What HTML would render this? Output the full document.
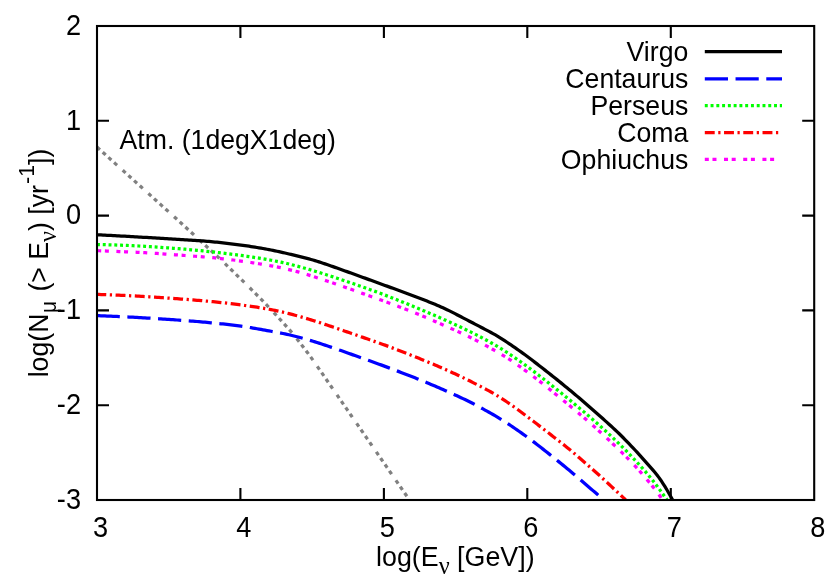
<!DOCTYPE html>
<html><head><meta charset="utf-8"><title>plot</title>
<style>
html,body{margin:0;padding:0;background:#fff;}
body{width:830px;height:581px;overflow:hidden;}
svg{display:block;will-change:transform;}
text{font-family:"Liberation Sans",sans-serif;fill:#000;}
.sym{font-family:"Liberation Serif",serif;}
</style></head><body>
<svg width="830" height="581" viewBox="0 0 830 581">
<rect width="830" height="581" fill="#fff"/>
<g fill="none" stroke-width="3.25" stroke-linejoin="round">
<path d="M97.0,147.07 L99.0,148.88 L101.0,150.68 L103.0,152.49 L105.0,154.30 L107.0,156.10 L109.0,157.91 L111.0,159.72 L113.0,161.52 L115.0,163.33 L117.0,165.14 L119.0,166.94 L121.0,168.75 L123.0,170.56 L125.0,172.36 L127.0,174.17 L129.0,175.98 L131.0,177.78 L133.0,179.59 L135.0,181.40 L137.0,183.20 L139.0,185.01 L141.0,186.82 L143.0,188.62 L145.0,190.43 L147.0,192.24 L149.0,194.04 L151.0,195.85 L153.0,197.66 L155.0,199.46 L157.0,201.27 L159.0,203.08 L161.0,204.88 L163.0,206.69 L165.0,208.50 L167.0,210.30 L169.0,212.11 L171.0,213.92 L173.0,215.73 L175.0,217.54 L177.0,219.35 L179.0,221.17 L181.0,223.00 L183.0,224.84 L185.0,226.68 L187.0,228.52 L189.0,230.36 L191.0,232.20 L193.0,234.04 L195.0,235.88 L197.0,237.72 L199.0,239.55 L201.0,241.39 L203.0,243.23 L205.0,245.07 L207.0,246.91 L209.0,248.75 L211.0,250.59 L213.0,252.43 L215.0,254.27 L217.0,256.12 L219.0,257.97 L221.0,259.85 L223.0,261.74 L225.0,263.65 L227.0,265.58 L229.0,267.52 L231.0,269.47 L233.0,271.42 L235.0,273.37 L237.0,275.32 L239.0,277.27 L241.0,279.22 L243.0,281.18 L245.0,283.13 L247.0,285.09 L249.0,287.05 L251.0,289.03 L253.0,291.03 L255.0,293.03 L257.0,295.04 L259.0,297.05 L261.0,299.07 L263.0,301.10 L265.0,303.17 L267.0,305.28 L269.0,307.41 L271.0,309.57 L273.0,311.72 L275.0,313.88 L277.0,316.05 L279.0,318.22 L281.0,320.41 L283.0,322.62 L285.0,324.84 L287.0,327.08 L289.0,329.34 L291.0,331.62 L293.0,333.96 L295.0,336.39 L297.0,338.90 L299.0,341.47 L301.0,344.07 L303.0,346.68 L305.0,349.30 L307.0,351.95 L309.0,354.63 L311.0,357.38 L313.0,360.20 L315.0,363.07 L317.0,365.96 L319.0,368.86 L321.0,371.76 L323.0,374.66 L325.0,377.56 L327.0,380.46 L329.0,383.36 L331.0,386.26 L333.0,389.15 L335.0,392.05 L337.0,394.95 L339.0,397.85 L341.0,400.75 L343.0,403.65 L345.0,406.55 L347.0,409.45 L349.0,412.35 L351.0,415.25 L353.0,418.15 L355.0,421.04 L357.0,423.94 L359.0,426.84 L361.0,429.74 L363.0,432.64 L365.0,435.54 L367.0,438.44 L369.0,441.34 L371.0,444.24 L373.0,447.14 L375.0,450.04 L377.0,452.94 L379.0,455.83 L381.0,458.73 L383.0,461.63 L385.0,464.53 L387.0,467.43 L389.0,470.33 L391.0,473.23 L393.0,476.13 L395.0,479.03 L397.0,481.93 L399.0,484.83 L401.0,487.72 L403.0,490.62 L405.0,493.52 L407.0,496.42 L408.6,498.74" stroke="#808080" stroke-dasharray="3.95 3.74 3.95 3.74 3.95 3.74 3.95 7.59" stroke-dashoffset="0"/>
<path d="M97.0,315.60 L99.0,315.68 L101.0,315.76 L103.0,315.84 L105.0,315.92 L107.0,316.01 L109.0,316.09 L111.0,316.18 L113.0,316.27 L115.0,316.36 L117.0,316.45 L119.0,316.55 L121.0,316.64 L123.0,316.74 L125.0,316.84 L127.0,316.94 L129.0,317.04 L131.0,317.14 L133.0,317.24 L135.0,317.35 L137.0,317.45 L139.0,317.56 L141.0,317.67 L143.0,317.79 L145.0,317.90 L147.0,318.02 L149.0,318.14 L151.0,318.26 L153.0,318.38 L155.0,318.51 L157.0,318.64 L159.0,318.77 L161.0,318.90 L163.0,319.03 L165.0,319.16 L167.0,319.30 L169.0,319.44 L171.0,319.58 L173.0,319.72 L175.0,319.86 L177.0,320.00 L179.0,320.14 L181.0,320.29 L183.0,320.44 L185.0,320.58 L187.0,320.73 L189.0,320.88 L191.0,321.03 L193.0,321.18 L195.0,321.34 L197.0,321.50 L199.0,321.67 L201.0,321.85 L203.0,322.03 L205.0,322.21 L207.0,322.40 L209.0,322.59 L211.0,322.78 L213.0,322.98 L215.0,323.18 L217.0,323.38 L219.0,323.58 L221.0,323.78 L223.0,323.99 L225.0,324.20 L227.0,324.42 L229.0,324.64 L231.0,324.86 L233.0,325.09 L235.0,325.33 L237.0,325.57 L239.0,325.83 L241.0,326.10 L243.0,326.39 L245.0,326.70 L247.0,327.03 L249.0,327.36 L251.0,327.70 L253.0,328.04 L255.0,328.39 L257.0,328.74 L259.0,329.09 L261.0,329.45 L263.0,329.81 L265.0,330.17 L267.0,330.53 L269.0,330.89 L271.0,331.26 L273.0,331.63 L275.0,332.00 L277.0,332.37 L279.0,332.75 L281.0,333.14 L283.0,333.52 L285.0,333.92 L287.0,334.34 L289.0,334.77 L291.0,335.23 L293.0,335.71 L295.0,336.21 L297.0,336.71 L299.0,337.22 L301.0,337.75 L303.0,338.30 L305.0,338.86 L307.0,339.44 L309.0,340.03 L311.0,340.64 L313.0,341.26 L315.0,341.88 L317.0,342.51 L319.0,343.15 L321.0,343.80 L323.0,344.45 L325.0,345.11 L327.0,345.78 L329.0,346.45 L331.0,347.13 L333.0,347.81 L335.0,348.50 L337.0,349.19 L339.0,349.89 L341.0,350.59 L343.0,351.30 L345.0,352.00 L347.0,352.71 L349.0,353.42 L351.0,354.13 L353.0,354.85 L355.0,355.56 L357.0,356.27 L359.0,356.99 L361.0,357.70 L363.0,358.42 L365.0,359.13 L367.0,359.85 L369.0,360.56 L371.0,361.28 L373.0,362.00 L375.0,362.72 L377.0,363.44 L379.0,364.16 L381.0,364.89 L383.0,365.62 L385.0,366.36 L387.0,367.11 L389.0,367.86 L391.0,368.61 L393.0,369.36 L395.0,370.12 L397.0,370.88 L399.0,371.64 L401.0,372.41 L403.0,373.17 L405.0,373.94 L407.0,374.72 L409.0,375.50 L411.0,376.28 L413.0,377.06 L415.0,377.85 L417.0,378.65 L419.0,379.45 L421.0,380.25 L423.0,381.06 L425.0,381.88 L427.0,382.70 L429.0,383.54 L431.0,384.38 L433.0,385.22 L435.0,386.08 L437.0,386.94 L439.0,387.80 L441.0,388.67 L443.0,389.55 L445.0,390.43 L447.0,391.32 L449.0,392.21 L451.0,393.11 L453.0,394.01 L455.0,394.92 L457.0,395.83 L459.0,396.75 L461.0,397.67 L463.0,398.60 L465.0,399.54 L467.0,400.49 L469.0,401.45 L471.0,402.43 L473.0,403.46 L475.0,404.53 L477.0,405.62 L479.0,406.73 L481.0,407.84 L483.0,408.95 L485.0,410.06 L487.0,411.17 L489.0,412.29 L491.0,413.40 L493.0,414.53 L495.0,415.68 L497.0,416.85 L499.0,418.05 L501.0,419.29 L503.0,420.54 L505.0,421.82 L507.0,423.12 L509.0,424.44 L511.0,425.77 L513.0,427.13 L515.0,428.49 L517.0,429.87 L519.0,431.27 L521.0,432.67 L523.0,434.09 L525.0,435.53 L527.0,436.98 L529.0,438.44 L531.0,439.91 L533.0,441.41 L535.0,442.92 L537.0,444.45 L539.0,445.99 L541.0,447.55 L543.0,449.12 L545.0,450.69 L547.0,452.28 L549.0,453.86 L551.0,455.46 L553.0,457.05 L555.0,458.65 L557.0,460.26 L559.0,461.88 L561.0,463.50 L563.0,465.13 L565.0,466.77 L567.0,468.42 L569.0,470.08 L571.0,471.75 L573.0,473.43 L575.0,475.13 L577.0,476.84 L579.0,478.56 L581.0,480.28 L583.0,482.01 L585.0,483.73 L587.0,485.45 L589.0,487.18 L591.0,488.90 L593.0,490.63 L595.0,492.35 L597.0,494.07 L598.3,495.20" stroke="#0000ff" stroke-dasharray="23.2 7.54" stroke-dashoffset="0.35"/>
<path d="M97.0,294.40 L99.0,294.46 L101.0,294.53 L103.0,294.59 L105.0,294.66 L107.0,294.73 L109.0,294.81 L111.0,294.88 L113.0,294.96 L115.0,295.04 L117.0,295.12 L119.0,295.21 L121.0,295.30 L123.0,295.39 L125.0,295.48 L127.0,295.58 L129.0,295.68 L131.0,295.78 L133.0,295.88 L135.0,295.99 L137.0,296.10 L139.0,296.21 L141.0,296.32 L143.0,296.44 L145.0,296.55 L147.0,296.67 L149.0,296.79 L151.0,296.92 L153.0,297.04 L155.0,297.17 L157.0,297.30 L159.0,297.44 L161.0,297.57 L163.0,297.71 L165.0,297.85 L167.0,297.99 L169.0,298.13 L171.0,298.27 L173.0,298.42 L175.0,298.57 L177.0,298.71 L179.0,298.87 L181.0,299.02 L183.0,299.17 L185.0,299.33 L187.0,299.49 L189.0,299.64 L191.0,299.80 L193.0,299.97 L195.0,300.13 L197.0,300.30 L199.0,300.46 L201.0,300.63 L203.0,300.81 L205.0,300.98 L207.0,301.16 L209.0,301.35 L211.0,301.53 L213.0,301.72 L215.0,301.91 L217.0,302.11 L219.0,302.32 L221.0,302.53 L223.0,302.75 L225.0,302.98 L227.0,303.21 L229.0,303.45 L231.0,303.69 L233.0,303.94 L235.0,304.19 L237.0,304.45 L239.0,304.70 L241.0,304.97 L243.0,305.24 L245.0,305.51 L247.0,305.78 L249.0,306.06 L251.0,306.34 L253.0,306.63 L255.0,306.93 L257.0,307.23 L259.0,307.54 L261.0,307.86 L263.0,308.19 L265.0,308.53 L267.0,308.88 L269.0,309.25 L271.0,309.63 L273.0,310.03 L275.0,310.44 L277.0,310.86 L279.0,311.29 L281.0,311.74 L283.0,312.20 L285.0,312.67 L287.0,313.15 L289.0,313.65 L291.0,314.17 L293.0,314.69 L295.0,315.23 L297.0,315.78 L299.0,316.33 L301.0,316.89 L303.0,317.46 L305.0,318.04 L307.0,318.63 L309.0,319.22 L311.0,319.83 L313.0,320.45 L315.0,321.09 L317.0,321.74 L319.0,322.39 L321.0,323.05 L323.0,323.71 L325.0,324.38 L327.0,325.05 L329.0,325.73 L331.0,326.40 L333.0,327.08 L335.0,327.76 L337.0,328.45 L339.0,329.13 L341.0,329.81 L343.0,330.50 L345.0,331.18 L347.0,331.87 L349.0,332.56 L351.0,333.25 L353.0,333.94 L355.0,334.63 L357.0,335.33 L359.0,336.02 L361.0,336.72 L363.0,337.41 L365.0,338.11 L367.0,338.81 L369.0,339.51 L371.0,340.21 L373.0,340.91 L375.0,341.61 L377.0,342.31 L379.0,343.02 L381.0,343.73 L383.0,344.44 L385.0,345.15 L387.0,345.88 L389.0,346.62 L391.0,347.37 L393.0,348.13 L395.0,348.90 L397.0,349.67 L399.0,350.45 L401.0,351.23 L403.0,352.01 L405.0,352.79 L407.0,353.58 L409.0,354.37 L411.0,355.16 L413.0,355.95 L415.0,356.75 L417.0,357.55 L419.0,358.35 L421.0,359.16 L423.0,359.97 L425.0,360.79 L427.0,361.61 L429.0,362.44 L431.0,363.28 L433.0,364.12 L435.0,364.97 L437.0,365.83 L439.0,366.69 L441.0,367.56 L443.0,368.43 L445.0,369.31 L447.0,370.20 L449.0,371.10 L451.0,372.01 L453.0,372.93 L455.0,373.85 L457.0,374.78 L459.0,375.73 L461.0,376.68 L463.0,377.63 L465.0,378.60 L467.0,379.58 L469.0,380.57 L471.0,381.57 L473.0,382.58 L475.0,383.59 L477.0,384.62 L479.0,385.64 L481.0,386.68 L483.0,387.72 L485.0,388.76 L487.0,389.82 L489.0,390.89 L491.0,391.99 L493.0,393.13 L495.0,394.31 L497.0,395.53 L499.0,396.78 L501.0,398.05 L503.0,399.34 L505.0,400.66 L507.0,402.00 L509.0,403.36 L511.0,404.75 L513.0,406.16 L515.0,407.59 L517.0,409.04 L519.0,410.50 L521.0,411.97 L523.0,413.46 L525.0,414.96 L527.0,416.46 L529.0,417.97 L531.0,419.49 L533.0,421.01 L535.0,422.54 L537.0,424.07 L539.0,425.61 L541.0,427.15 L543.0,428.69 L545.0,430.23 L547.0,431.78 L549.0,433.33 L551.0,434.88 L553.0,436.43 L555.0,437.98 L557.0,439.53 L559.0,441.09 L561.0,442.66 L563.0,444.23 L565.0,445.81 L567.0,447.41 L569.0,449.03 L571.0,450.68 L573.0,452.36 L575.0,454.07 L577.0,455.79 L579.0,457.52 L581.0,459.26 L583.0,461.00 L585.0,462.74 L587.0,464.48 L589.0,466.23 L591.0,467.98 L593.0,469.74 L595.0,471.50 L597.0,473.27 L599.0,475.06 L601.0,476.87 L603.0,478.71 L605.0,480.56 L607.0,482.42 L609.0,484.29 L611.0,486.15 L613.0,488.02 L615.0,489.89 L617.0,491.76 L619.0,493.63 L621.0,495.49 L623.0,497.36 L625.0,499.23 L625.6,499.79" stroke="#ff0000" stroke-dasharray="9.9 3.55 2.24 3.55" stroke-dashoffset="0.65"/>
<path d="M97.0,250.69 L99.0,250.75 L101.0,250.82 L103.0,250.89 L105.0,250.96 L107.0,251.04 L109.0,251.11 L111.0,251.19 L113.0,251.27 L115.0,251.35 L117.0,251.43 L119.0,251.52 L121.0,251.60 L123.0,251.69 L125.0,251.77 L127.0,251.86 L129.0,251.94 L131.0,252.03 L133.0,252.12 L135.0,252.21 L137.0,252.31 L139.0,252.40 L141.0,252.50 L143.0,252.61 L145.0,252.72 L147.0,252.84 L149.0,252.96 L151.0,253.09 L153.0,253.22 L155.0,253.35 L157.0,253.49 L159.0,253.62 L161.0,253.76 L163.0,253.90 L165.0,254.04 L167.0,254.18 L169.0,254.33 L171.0,254.47 L173.0,254.62 L175.0,254.76 L177.0,254.91 L179.0,255.05 L181.0,255.20 L183.0,255.35 L185.0,255.50 L187.0,255.65 L189.0,255.79 L191.0,255.94 L193.0,256.10 L195.0,256.25 L197.0,256.40 L199.0,256.55 L201.0,256.71 L203.0,256.86 L205.0,257.02 L207.0,257.19 L209.0,257.36 L211.0,257.54 L213.0,257.73 L215.0,257.94 L217.0,258.14 L219.0,258.36 L221.0,258.58 L223.0,258.80 L225.0,259.02 L227.0,259.25 L229.0,259.49 L231.0,259.74 L233.0,259.99 L235.0,260.25 L237.0,260.51 L239.0,260.79 L241.0,261.06 L243.0,261.34 L245.0,261.63 L247.0,261.91 L249.0,262.21 L251.0,262.50 L253.0,262.80 L255.0,263.10 L257.0,263.41 L259.0,263.73 L261.0,264.06 L263.0,264.39 L265.0,264.73 L267.0,265.08 L269.0,265.43 L271.0,265.79 L273.0,266.15 L275.0,266.53 L277.0,266.92 L279.0,267.33 L281.0,267.75 L283.0,268.19 L285.0,268.64 L287.0,269.10 L289.0,269.57 L291.0,270.06 L293.0,270.57 L295.0,271.09 L297.0,271.63 L299.0,272.18 L301.0,272.75 L303.0,273.32 L305.0,273.91 L307.0,274.51 L309.0,275.13 L311.0,275.76 L313.0,276.40 L315.0,277.06 L317.0,277.71 L319.0,278.37 L321.0,279.04 L323.0,279.70 L325.0,280.36 L327.0,281.03 L329.0,281.70 L331.0,282.37 L333.0,283.05 L335.0,283.73 L337.0,284.41 L339.0,285.10 L341.0,285.80 L343.0,286.50 L345.0,287.21 L347.0,287.92 L349.0,288.63 L351.0,289.34 L353.0,290.05 L355.0,290.76 L357.0,291.47 L359.0,292.18 L361.0,292.90 L363.0,293.61 L365.0,294.33 L367.0,295.04 L369.0,295.76 L371.0,296.48 L373.0,297.19 L375.0,297.91 L377.0,298.63 L379.0,299.35 L381.0,300.07 L383.0,300.79 L385.0,301.51 L387.0,302.23 L389.0,302.96 L391.0,303.68 L393.0,304.41 L395.0,305.15 L397.0,305.90 L399.0,306.65 L401.0,307.42 L403.0,308.20 L405.0,308.98 L407.0,309.76 L409.0,310.55 L411.0,311.35 L413.0,312.15 L415.0,312.95 L417.0,313.76 L419.0,314.59 L421.0,315.42 L423.0,316.26 L425.0,317.11 L427.0,317.97 L429.0,318.82 L431.0,319.68 L433.0,320.55 L435.0,321.41 L437.0,322.29 L439.0,323.16 L441.0,324.04 L443.0,324.93 L445.0,325.81 L447.0,326.70 L449.0,327.59 L451.0,328.48 L453.0,329.37 L455.0,330.27 L457.0,331.16 L459.0,332.06 L461.0,332.96 L463.0,333.87 L465.0,334.80 L467.0,335.74 L469.0,336.71 L471.0,337.71 L473.0,338.73 L475.0,339.77 L477.0,340.83 L479.0,341.88 L481.0,342.95 L483.0,344.01 L485.0,345.09 L487.0,346.17 L489.0,347.26 L491.0,348.37 L493.0,349.50 L495.0,350.65 L497.0,351.81 L499.0,352.99 L501.0,354.17 L503.0,355.36 L505.0,356.55 L507.0,357.76 L509.0,359.01 L511.0,360.31 L513.0,361.67 L515.0,363.07 L517.0,364.50 L519.0,365.95 L521.0,367.40 L523.0,368.86 L525.0,370.32 L527.0,371.78 L529.0,373.26 L531.0,374.74 L533.0,376.23 L535.0,377.74 L537.0,379.27 L539.0,380.81 L541.0,382.37 L543.0,383.95 L545.0,385.55 L547.0,387.15 L549.0,388.76 L551.0,390.38 L553.0,392.01 L555.0,393.64 L557.0,395.28 L559.0,396.92 L561.0,398.56 L563.0,400.21 L565.0,401.85 L567.0,403.50 L569.0,405.16 L571.0,406.81 L573.0,408.47 L575.0,410.13 L577.0,411.79 L579.0,413.48 L581.0,415.17 L583.0,416.88 L585.0,418.60 L587.0,420.33 L589.0,422.06 L591.0,423.81 L593.0,425.58 L595.0,427.36 L597.0,429.17 L599.0,430.98 L601.0,432.79 L603.0,434.62 L605.0,436.45 L607.0,438.30 L609.0,440.18 L611.0,442.08 L613.0,444.00 L615.0,445.91 L617.0,447.83 L619.0,449.76 L621.0,451.69 L623.0,453.65 L625.0,455.62 L627.0,457.62 L629.0,459.64 L631.0,461.69 L633.0,463.77 L635.0,465.90 L637.0,468.08 L639.0,470.31 L641.0,472.60 L643.0,474.94 L645.0,477.30 L647.0,479.67 L649.0,482.05 L651.0,484.45 L653.0,486.88 L655.0,489.39 L657.0,491.99 L659.0,494.71 L661.0,497.54 L662.6,499.86" stroke="#ff00ff" stroke-dasharray="4 3.68 4 7.53" stroke-dashoffset="-0.2"/>
<path d="M97.0,244.53 L99.0,244.56 L101.0,244.60 L103.0,244.64 L105.0,244.68 L107.0,244.73 L109.0,244.79 L111.0,244.84 L113.0,244.90 L115.0,244.97 L117.0,245.03 L119.0,245.11 L121.0,245.18 L123.0,245.26 L125.0,245.34 L127.0,245.42 L129.0,245.51 L131.0,245.60 L133.0,245.70 L135.0,245.80 L137.0,245.90 L139.0,246.00 L141.0,246.11 L143.0,246.22 L145.0,246.34 L147.0,246.46 L149.0,246.58 L151.0,246.71 L153.0,246.84 L155.0,246.97 L157.0,247.10 L159.0,247.24 L161.0,247.37 L163.0,247.51 L165.0,247.66 L167.0,247.80 L169.0,247.95 L171.0,248.10 L173.0,248.26 L175.0,248.41 L177.0,248.57 L179.0,248.74 L181.0,248.90 L183.0,249.07 L185.0,249.24 L187.0,249.42 L189.0,249.60 L191.0,249.78 L193.0,249.96 L195.0,250.15 L197.0,250.34 L199.0,250.53 L201.0,250.72 L203.0,250.93 L205.0,251.13 L207.0,251.34 L209.0,251.55 L211.0,251.76 L213.0,251.98 L215.0,252.20 L217.0,252.43 L219.0,252.66 L221.0,252.89 L223.0,253.13 L225.0,253.37 L227.0,253.61 L229.0,253.86 L231.0,254.12 L233.0,254.37 L235.0,254.64 L237.0,254.90 L239.0,255.17 L241.0,255.45 L243.0,255.73 L245.0,256.01 L247.0,256.30 L249.0,256.60 L251.0,256.90 L253.0,257.21 L255.0,257.52 L257.0,257.83 L259.0,258.15 L261.0,258.47 L263.0,258.81 L265.0,259.15 L267.0,259.50 L269.0,259.86 L271.0,260.23 L273.0,260.61 L275.0,260.99 L277.0,261.39 L279.0,261.79 L281.0,262.21 L283.0,262.63 L285.0,263.07 L287.0,263.53 L289.0,264.01 L291.0,264.51 L293.0,265.03 L295.0,265.55 L297.0,266.08 L299.0,266.62 L301.0,267.16 L303.0,267.72 L305.0,268.28 L307.0,268.85 L309.0,269.43 L311.0,270.01 L313.0,270.61 L315.0,271.21 L317.0,271.81 L319.0,272.43 L321.0,273.04 L323.0,273.67 L325.0,274.30 L327.0,274.93 L329.0,275.57 L331.0,276.21 L333.0,276.86 L335.0,277.52 L337.0,278.18 L339.0,278.84 L341.0,279.50 L343.0,280.17 L345.0,280.85 L347.0,281.53 L349.0,282.21 L351.0,282.89 L353.0,283.58 L355.0,284.28 L357.0,284.97 L359.0,285.67 L361.0,286.37 L363.0,287.07 L365.0,287.78 L367.0,288.49 L369.0,289.20 L371.0,289.91 L373.0,290.64 L375.0,291.36 L377.0,292.10 L379.0,292.84 L381.0,293.59 L383.0,294.34 L385.0,295.11 L387.0,295.88 L389.0,296.65 L391.0,297.44 L393.0,298.22 L395.0,299.01 L397.0,299.80 L399.0,300.60 L401.0,301.40 L403.0,302.20 L405.0,303.01 L407.0,303.82 L409.0,304.63 L411.0,305.45 L413.0,306.27 L415.0,307.10 L417.0,307.92 L419.0,308.76 L421.0,309.59 L423.0,310.44 L425.0,311.28 L427.0,312.13 L429.0,312.98 L431.0,313.84 L433.0,314.70 L435.0,315.57 L437.0,316.44 L439.0,317.32 L441.0,318.20 L443.0,319.09 L445.0,319.98 L447.0,320.88 L449.0,321.79 L451.0,322.70 L453.0,323.62 L455.0,324.54 L457.0,325.47 L459.0,326.40 L461.0,327.34 L463.0,328.29 L465.0,329.24 L467.0,330.21 L469.0,331.18 L471.0,332.16 L473.0,333.15 L475.0,334.15 L477.0,335.17 L479.0,336.20 L481.0,337.25 L483.0,338.31 L485.0,339.39 L487.0,340.49 L489.0,341.59 L491.0,342.72 L493.0,343.85 L495.0,345.02 L497.0,346.20 L499.0,347.42 L501.0,348.66 L503.0,349.92 L505.0,351.20 L507.0,352.49 L509.0,353.81 L511.0,355.14 L513.0,356.48 L515.0,357.85 L517.0,359.23 L519.0,360.62 L521.0,362.03 L523.0,363.46 L525.0,364.90 L527.0,366.37 L529.0,367.85 L531.0,369.34 L533.0,370.85 L535.0,372.37 L537.0,373.89 L539.0,375.43 L541.0,376.98 L543.0,378.53 L545.0,380.10 L547.0,381.66 L549.0,383.24 L551.0,384.82 L553.0,386.41 L555.0,388.01 L557.0,389.62 L559.0,391.23 L561.0,392.85 L563.0,394.48 L565.0,396.11 L567.0,397.75 L569.0,399.40 L571.0,401.05 L573.0,402.71 L575.0,404.38 L577.0,406.06 L579.0,407.74 L581.0,409.43 L583.0,411.13 L585.0,412.82 L587.0,414.53 L589.0,416.24 L591.0,417.97 L593.0,419.71 L595.0,421.46 L597.0,423.23 L599.0,425.02 L601.0,426.81 L603.0,428.61 L605.0,430.44 L607.0,432.28 L609.0,434.14 L611.0,436.02 L613.0,437.91 L615.0,439.82 L617.0,441.74 L619.0,443.69 L621.0,445.66 L623.0,447.65 L625.0,449.67 L627.0,451.71 L629.0,453.78 L631.0,455.87 L633.0,457.98 L635.0,460.12 L637.0,462.27 L639.0,464.45 L641.0,466.66 L643.0,468.90 L645.0,471.19 L647.0,473.52 L649.0,475.91 L651.0,478.36 L653.0,480.85 L655.0,483.40 L657.0,486.01 L659.0,488.69 L661.0,491.43 L663.0,494.21 L665.0,497.01 L667.0,499.83" stroke="#00ff00" stroke-dasharray="2.95 2.82" stroke-dashoffset="0"/>
<path d="M97.0,234.77 L99.0,234.87 L101.0,234.97 L103.0,235.07 L105.0,235.17 L107.0,235.27 L109.0,235.38 L111.0,235.48 L113.0,235.59 L115.0,235.70 L117.0,235.80 L119.0,235.91 L121.0,236.02 L123.0,236.13 L125.0,236.24 L127.0,236.36 L129.0,236.47 L131.0,236.58 L133.0,236.69 L135.0,236.81 L137.0,236.92 L139.0,237.03 L141.0,237.15 L143.0,237.26 L145.0,237.38 L147.0,237.49 L149.0,237.61 L151.0,237.73 L153.0,237.84 L155.0,237.96 L157.0,238.08 L159.0,238.19 L161.0,238.31 L163.0,238.43 L165.0,238.55 L167.0,238.67 L169.0,238.79 L171.0,238.91 L173.0,239.03 L175.0,239.15 L177.0,239.27 L179.0,239.39 L181.0,239.51 L183.0,239.64 L185.0,239.76 L187.0,239.88 L189.0,240.01 L191.0,240.13 L193.0,240.26 L195.0,240.39 L197.0,240.53 L199.0,240.68 L201.0,240.83 L203.0,240.99 L205.0,241.15 L207.0,241.31 L209.0,241.48 L211.0,241.66 L213.0,241.84 L215.0,242.04 L217.0,242.24 L219.0,242.45 L221.0,242.67 L223.0,242.89 L225.0,243.11 L227.0,243.34 L229.0,243.57 L231.0,243.81 L233.0,244.05 L235.0,244.30 L237.0,244.55 L239.0,244.81 L241.0,245.08 L243.0,245.35 L245.0,245.63 L247.0,245.92 L249.0,246.21 L251.0,246.52 L253.0,246.83 L255.0,247.15 L257.0,247.48 L259.0,247.82 L261.0,248.16 L263.0,248.51 L265.0,248.87 L267.0,249.23 L269.0,249.62 L271.0,250.01 L273.0,250.42 L275.0,250.83 L277.0,251.26 L279.0,251.69 L281.0,252.13 L283.0,252.58 L285.0,253.03 L287.0,253.49 L289.0,253.96 L291.0,254.44 L293.0,254.92 L295.0,255.41 L297.0,255.90 L299.0,256.39 L301.0,256.88 L303.0,257.38 L305.0,257.89 L307.0,258.40 L309.0,258.92 L311.0,259.45 L313.0,260.01 L315.0,260.59 L317.0,261.20 L319.0,261.85 L321.0,262.51 L323.0,263.18 L325.0,263.86 L327.0,264.55 L329.0,265.24 L331.0,265.94 L333.0,266.64 L335.0,267.35 L337.0,268.06 L339.0,268.77 L341.0,269.48 L343.0,270.20 L345.0,270.92 L347.0,271.64 L349.0,272.36 L351.0,273.08 L353.0,273.81 L355.0,274.53 L357.0,275.25 L359.0,275.98 L361.0,276.70 L363.0,277.43 L365.0,278.15 L367.0,278.88 L369.0,279.61 L371.0,280.33 L373.0,281.06 L375.0,281.78 L377.0,282.51 L379.0,283.24 L381.0,283.97 L383.0,284.69 L385.0,285.42 L387.0,286.15 L389.0,286.87 L391.0,287.60 L393.0,288.33 L395.0,289.06 L397.0,289.78 L399.0,290.51 L401.0,291.24 L403.0,291.97 L405.0,292.70 L407.0,293.44 L409.0,294.18 L411.0,294.93 L413.0,295.68 L415.0,296.44 L417.0,297.20 L419.0,297.96 L421.0,298.73 L423.0,299.51 L425.0,300.30 L427.0,301.09 L429.0,301.89 L431.0,302.70 L433.0,303.52 L435.0,304.36 L437.0,305.21 L439.0,306.07 L441.0,306.95 L443.0,307.84 L445.0,308.76 L447.0,309.69 L449.0,310.65 L451.0,311.63 L453.0,312.64 L455.0,313.66 L457.0,314.70 L459.0,315.74 L461.0,316.78 L463.0,317.83 L465.0,318.87 L467.0,319.92 L469.0,320.96 L471.0,322.00 L473.0,323.05 L475.0,324.09 L477.0,325.14 L479.0,326.18 L481.0,327.23 L483.0,328.27 L485.0,329.32 L487.0,330.37 L489.0,331.42 L491.0,332.48 L493.0,333.57 L495.0,334.69 L497.0,335.86 L499.0,337.08 L501.0,338.34 L503.0,339.62 L505.0,340.92 L507.0,342.24 L509.0,343.58 L511.0,344.93 L513.0,346.29 L515.0,347.67 L517.0,349.07 L519.0,350.47 L521.0,351.89 L523.0,353.33 L525.0,354.79 L527.0,356.26 L529.0,357.76 L531.0,359.28 L533.0,360.81 L535.0,362.35 L537.0,363.90 L539.0,365.46 L541.0,367.02 L543.0,368.58 L545.0,370.15 L547.0,371.71 L549.0,373.28 L551.0,374.85 L553.0,376.43 L555.0,378.02 L557.0,379.62 L559.0,381.24 L561.0,382.87 L563.0,384.51 L565.0,386.15 L567.0,387.79 L569.0,389.43 L571.0,391.09 L573.0,392.76 L575.0,394.44 L577.0,396.13 L579.0,397.83 L581.0,399.55 L583.0,401.28 L585.0,403.02 L587.0,404.76 L589.0,406.50 L591.0,408.25 L593.0,410.00 L595.0,411.75 L597.0,413.50 L599.0,415.26 L601.0,417.03 L603.0,418.81 L605.0,420.59 L607.0,422.39 L609.0,424.20 L611.0,426.03 L613.0,427.87 L615.0,429.73 L617.0,431.62 L619.0,433.54 L621.0,435.51 L623.0,437.52 L625.0,439.55 L627.0,441.61 L629.0,443.68 L631.0,445.76 L633.0,447.86 L635.0,449.99 L637.0,452.16 L639.0,454.36 L641.0,456.59 L643.0,458.83 L645.0,461.08 L647.0,463.33 L649.0,465.58 L651.0,467.84 L653.0,470.12 L655.0,472.47 L657.0,474.94 L659.0,477.61 L661.0,480.48 L663.0,483.54 L665.0,486.73 L667.0,490.03 L669.0,493.45 L671.0,497.06 L672.5,499.88" stroke="#000000"/>
<path d="M704.8,51.7 L782,51.7" stroke="#000000"/>
<path d="M704.8,78.8 L782,78.8" stroke="#0000ff" stroke-dasharray="23.2 7.54"/>
<path d="M704.8,105.6 L782,105.6" stroke="#00ff00" stroke-dasharray="2.95 2.82"/>
<path d="M704.8,132.5 L781.6,132.5" stroke="#ff0000" stroke-dasharray="9.9 3.55 2.24 3.55"/>
<path d="M704.8,159.4 L781.6,159.4" stroke="#ff00ff" stroke-dasharray="4 3.68 4 7.53"/>
</g>
<g fill="none" stroke="#000" stroke-width="2.1">
<rect x="97" y="26" width="717.2" height="474"/>
<path d="M240.4,500 v-12 M240.4,26 v12 M383.9,500 v-12 M383.9,26 v12 M527.3,500 v-12 M527.3,26 v12 M670.8,500 v-12 M670.8,26 v12 M97,120.8 h12 M814.2,120.8 h-12 M97,215.6 h12 M814.2,215.6 h-12 M97,310.4 h12 M814.2,310.4 h-12 M97,405.2 h12 M814.2,405.2 h-12 "/>
</g>
<g font-size="27.6">
<text transform="translate(81.0,34.7) scale(0.985,1.065)" text-anchor="end">2</text>
<text transform="translate(81.0,129.5) scale(0.985,1.065)" text-anchor="end">1</text>
<text transform="translate(81.0,224.3) scale(0.985,1.065)" text-anchor="end">0</text>
<text transform="translate(81.0,319.1) scale(0.985,1.065)" text-anchor="end">-1</text>
<text transform="translate(81.0,413.9) scale(0.985,1.065)" text-anchor="end">-2</text>
<text transform="translate(81.0,508.7) scale(0.985,1.065)" text-anchor="end">-3</text>
<text transform="translate(100.5,536.8) scale(0.985,1.065)" text-anchor="middle">3</text>
<text transform="translate(243.9,536.8) scale(0.985,1.065)" text-anchor="middle">4</text>
<text transform="translate(387.4,536.8) scale(0.985,1.065)" text-anchor="middle">5</text>
<text transform="translate(530.8,536.8) scale(0.985,1.065)" text-anchor="middle">6</text>
<text transform="translate(674.3,536.8) scale(0.985,1.065)" text-anchor="middle">7</text>
<text transform="translate(817.7,536.8) scale(0.985,1.065)" text-anchor="middle">8</text>
<text transform="translate(688.3,61.3) scale(0.966,1)" text-anchor="end">Virgo</text>
<text transform="translate(688.3,88.4) scale(0.966,1)" text-anchor="end">Centaurus</text>
<text transform="translate(688.3,115.2) scale(0.966,1)" text-anchor="end">Perseus</text>
<text transform="translate(688.3,142.1) scale(0.966,1)" text-anchor="end">Coma</text>
<text transform="translate(688.3,169.0) scale(0.966,1)" text-anchor="end">Ophiuchus</text>
<text transform="translate(119.5,149.0) scale(0.966,1)" text-anchor="start">Atm. (1degX1deg)</text>
<text transform="translate(455.3,565.7) scale(0.972,1)" text-anchor="middle">log(E<tspan class="sym" font-size="25" dy="8.2">ν</tspan><tspan dy="-8.2"> [GeV])</tspan></text>
<text transform="translate(47.9,263.0) rotate(-90) scale(0.967,1)" text-anchor="middle">log(N<tspan font-size="21.5" dy="7.8" dx="0.5">μ</tspan><tspan dy="-7.8" dx="2.2"> (&gt; E</tspan><tspan class="sym" font-size="25" dy="8.2">ν</tspan><tspan dy="-8.2">) [yr</tspan><tspan font-size="22.1" dy="-14.3" dx="1.2">-1</tspan><tspan dy="14.3">])</tspan></text>
</g>
</svg>
</body></html>
